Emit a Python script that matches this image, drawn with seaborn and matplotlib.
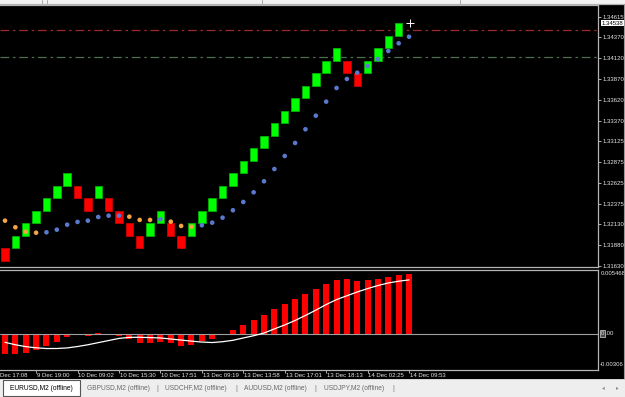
import matplotlib
matplotlib.use("Agg")
import matplotlib.pyplot as plt
import matplotlib.transforms as mtrans
from matplotlib.patches import Rectangle
from matplotlib.lines import Line2D
from matplotlib import font_manager
import numpy as np
import pandas as pd
import seaborn as sns

# ---------------- data ----------------
brick_open = [1.31838, 1.31838, 1.31988, 1.32138, 1.32288, 1.32438, 1.32588, 1.32588, 1.32438, 1.32438,
              1.32438, 1.32288, 1.32138, 1.31988, 1.31988, 1.32138, 1.32138, 1.31988, 1.31988, 1.32138,
              1.32288, 1.32438, 1.32588, 1.32738, 1.32888, 1.33038, 1.33188, 1.33338, 1.33488, 1.33638,
              1.33788, 1.33938, 1.34088, 1.34088, 1.33938, 1.33938, 1.34088, 1.34238, 1.34388]
brick_close = [1.31688, 1.31988, 1.32138, 1.32288, 1.32438, 1.32588, 1.32738, 1.32438, 1.32288, 1.32588,
               1.32288, 1.32138, 1.31988, 1.31838, 1.32138, 1.32288, 1.31988, 1.31838, 1.32138, 1.32288,
               1.32438, 1.32588, 1.32738, 1.32888, 1.33038, 1.33188, 1.33338, 1.33488, 1.33638, 1.33788,
               1.33938, 1.34088, 1.34238, 1.33938, 1.33788, 1.34088, 1.34238, 1.34388, 1.34538]

dot_price = [1.32171, 1.32092, 1.32039, 1.32027, 1.32032, 1.32063, 1.32123, 1.32156, 1.32171, 1.32215,
             1.32231, 1.32231, 1.32219, 1.32180, 1.32180, 1.32188, 1.32159, 1.32108, 1.32099, 1.32116,
             1.32147, 1.32207, 1.32296, 1.32395, 1.32511, 1.32643, 1.32790, 1.32946, 1.33102, 1.33266,
             1.33429, 1.33597, 1.33761, 1.33869, 1.33944, 1.34024, 1.34108, 1.34204, 1.34296, 1.34375]
dot_kind = list("OOOO" + "B" * 8 + "OOO" + "B" + "OOO" + "B" * 21)

hist_vals = [-0.00173, -0.00173, -0.00165, -0.00136, -0.00105, -0.00074, -0.00028, -0.00014, -0.00020, 0.00006,
             -0.00002, -0.00020, -0.00049, -0.00083, -0.00083, -0.00068, -0.00083, -0.00105, -0.00094, -0.00062,
             -0.00045, -0.00011, 0.00032, 0.00071, 0.00113, 0.00159, 0.00207, 0.00253, 0.00298, 0.00341,
             0.00378, 0.00421, 0.00455, 0.00463, 0.00446, 0.00455, 0.00463, 0.00480, 0.00497, 0.00506]
signal_vals = [-0.00074, -0.00095, -0.00111, -0.00121, -0.00127, -0.00127, -0.00122, -0.00110, -0.00095, -0.00077,
               -0.00059, -0.00041, -0.00032, -0.00031, -0.00034, -0.00037, -0.00046, -0.00055, -0.00064, -0.00072,
               -0.00076, -0.00069, -0.00057, -0.00037, -0.00018, 0.00005, 0.00040, 0.00074, 0.00112, 0.00155,
               0.00200, 0.00248, 0.00290, 0.00323, 0.00355, 0.00384, 0.00410, 0.00432, 0.00447, 0.00458]

price_ticks = [1.34615, 1.34370, 1.34120, 1.33870, 1.33620, 1.33370, 1.33125,
               1.32875, 1.32625, 1.32375, 1.32130, 1.31880, 1.31630]
price_tick_labels = ["1.34615", "1.34370", "1.34120", "1.33870", "1.33620", "1.33370", "1.33125",
                     "1.32875", "1.32625", "1.32375", "1.32130", "1.31880", "1.31630"]
first_time_label = "Dec 17:08"          # partially visible label at the left edge
time_tick_idx = [3, 7, 11, 15, 19, 23, 27, 31, 35, 39]
time_tick_labels = ["9 Dec 19:00", "10 Dec 09:02", "10 Dec 15:30", "10 Dec 17:51",
                    "13 Dec 09:19", "13 Dec 13:58", "13 Dec 17:01", "13 Dec 18:13", "14 Dec 02:25",
                    "14 Dec 09:53"]
level_red = 1.34459
level_green = 1.34128
bid_price = 1.34538
bid_label = "1.34538"
cursor_pos = (39.1, 1.34543)
osc_max, osc_min = 0.005468, -0.00306
osc_labels = ["0.005468", "0.00", "-0.00306"]
tab_names = ["EURUSD,M2 (offline)", "GBPUSD,M2 (offline)", "USDCHF,M2 (offline)",
             "AUDUSD,M2 (offline)", "USDJPY,M2 (offline)"]

# ---------------- style ----------------
sns.set_theme(style="dark", rc={"axes.facecolor": "black", "figure.facecolor": "black"})
names = {f.name for f in font_manager.fontManager.ttflist}
if "Liberation Sans Narrow" in names:
    AXFONT, AXFS = "Liberation Sans Narrow", 5.0
else:
    AXFONT, AXFS = "Liberation Sans", 4.3
plt.rcParams["font.family"] = [AXFONT, "DejaVu Sans"]
TXT = "#e6e6e6"
SPINE = "#b4b4b4"

W, H = 625, 397
fig = plt.figure(figsize=(W / 100, H / 100), dpi=100)
fig.patch.set_facecolor("black")


def fx(px):
    return px / W


def fy(py):
    return 1 - py / H


ax1 = fig.add_axes([0, fy(267), fx(598), (267 - 4.5) / H])
ax2 = fig.add_axes([0, fy(369.5), fx(598), 100 / H])

# ---------------- upper: renko bricks ----------------
o = np.array(brick_open)
c = np.array(brick_close)
xb = np.arange(len(o))
up = c > o
ax1.bar(xb[up], (c - o)[up], bottom=o[up], width=0.72, color="#00ff00",
        edgecolor="#00b000", linewidth=0.6, zorder=2)
ax1.bar(xb[~up], (c - o)[~up], bottom=o[~up], width=0.72, color="#ff0000",
        edgecolor="#c80000", linewidth=0.6, zorder=2)

df_dots = pd.DataFrame({"idx": np.arange(len(dot_price)), "price": dot_price, "kind": dot_kind})
sns.scatterplot(data=df_dots, x="idx", y="price", hue="kind",
                palette={"O": "#f4a442", "B": "#5a78cc"}, s=11, linewidth=0,
                legend=False, ax=ax1, zorder=3)

ax1.axhline(level_red, color="#9c2a2a", lw=0.9, ls=(0, (7, 3, 2, 3)), zorder=1)
ax1.axhline(level_green, color="#4e6e4e", lw=0.9, ls=(0, (7, 3, 2, 3)), zorder=1)
ax1.plot([cursor_pos[0]], [cursor_pos[1]], marker="+", color="white", ms=6, mew=0.7, zorder=5)

ax1.set_xlim(-0.4826, 57.24)
ax1.set_ylim(1.31616, 1.34761)

# ---------------- lower: oscillator ----------------
xh = np.arange(len(hist_vals))
ax2.bar(xh, hist_vals, width=0.58, color="#ff0000", linewidth=0, zorder=2)
ax2.axhline(0, color="#a0a0a0", lw=0.8, zorder=3)
sns.lineplot(x=xh, y=signal_vals, color="white", lw=0.9, ax=ax2, zorder=4)
ax2.set_xlim(-0.4826, 57.24)
ax2.set_ylim(osc_min, osc_max)

for ax in (ax1, ax2):
    ax.set_facecolor("black")
    ax.grid(False)
    ax.set_xlabel("")
    ax.set_ylabel("")
    ax.spines["left"].set_visible(False)
    for s in ("top", "right", "bottom"):
        ax.spines[s].set_visible(True)
        ax.spines[s].set_color(SPINE)
        ax.spines[s].set_linewidth(0.9)

ax1.set_xticks([])
ax1.yaxis.tick_right()
ax1.set_yticks(price_ticks, labels=price_tick_labels)
ax1.tick_params(axis="y", right=True, left=False, length=2.2, width=0.6, color="#c8c8c8",
                labelcolor=TXT, labelsize=AXFS, pad=1)

tr_r1 = mtrans.blended_transform_factory(ax1.transAxes, ax1.transData)
ax1.text(1 + 4 / 598, bid_price, bid_label, transform=tr_r1, ha="left", va="center",
         color="black", fontsize=AXFS, clip_on=False, zorder=6,
         bbox=dict(boxstyle="square,pad=0.12", fc="white", ec="none"))

ax2.set_yticks([])
ax2.set_xticks(time_tick_idx, labels=[""] * len(time_tick_idx))
ax2.tick_params(axis="x", bottom=True, length=2, width=0.6, color="#c8c8c8")
tr_b = mtrans.blended_transform_factory(ax2.transData, ax2.transAxes)
for i, lab in zip(time_tick_idx, time_tick_labels):
    ax2.text(i + 0.08, -0.035, lab, transform=tr_b, ha="left", va="top",
             fontsize=AXFS, color=TXT, clip_on=False)
ax2.text(0.0, -0.035, first_time_label, transform=ax2.transAxes, ha="left", va="top",
         fontsize=AXFS, color=TXT, clip_on=False)

ax2.text(1 + 3 / 598, 0.962, osc_labels[0], transform=ax2.transAxes, ha="left", va="center",
         fontsize=AXFS, color=TXT, clip_on=False)
tr_r2 = mtrans.blended_transform_factory(ax2.transAxes, ax2.transData)
ax2.text(1 + 3 / 598, 0, "0", transform=tr_r2, ha="left", va="center", fontsize=AXFS,
         color=TXT, clip_on=False,
         bbox=dict(boxstyle="square,pad=0.12", fc="#4a4a4a", ec="#d8d8d8", lw=0.5))
ax2.text(1 + 7 / 598, 0, osc_labels[1][1:], transform=tr_r2, ha="left", va="center",
         fontsize=AXFS, color=TXT, clip_on=False)
ax2.text(1 + 2 / 598, 0.052, osc_labels[2], transform=ax2.transAxes, ha="left", va="center",
         fontsize=AXFS, color=TXT, clip_on=False)

# ---------------- window chrome ----------------
fig.add_artist(Rectangle((0, fy(3.5)), 1, 3.5 / H, transform=fig.transFigure,
                         fc="#f2f2f2", ec="none"))
for xv in (42, 47, 262, 460):
    fig.add_artist(Line2D([fx(xv)] * 2, [fy(3.5), 1], transform=fig.transFigure,
                          color="#9a9a9a", lw=0.6))
fig.add_artist(Line2D([0, 1], [fy(4.3)] * 2, transform=fig.transFigure, color=SPINE, lw=0.9))
fig.add_artist(Line2D([fx(623.5)] * 2, [fy(379), fy(4.3)], transform=fig.transFigure,
                      color="#9a9a9a", lw=0.8))

fig.add_artist(Rectangle((0, 0), 1, 18 / H, transform=fig.transFigure, fc="#eeeeee", ec="none"))
fig.add_artist(Line2D([0, 1], [18 / H] * 2, transform=fig.transFigure, color="#d0d0d0", lw=0.6))
fig.add_artist(Rectangle((fx(3), fy(396)), fx(77), 16 / H, transform=fig.transFigure,
                         fc="white", ec="#555555", lw=0.8))
tab_centers = [41.5, 118, 196, 275, 354]
for k, (cx, name) in enumerate(zip(tab_centers, tab_names)):
    fig.text(fx(cx), fy(388), name, ha="center", va="center", fontsize=4.8,
             family=["Liberation Sans", "DejaVu Sans"], color="black" if k == 0 else "#6a6a6a")
for sx in (157, 236, 315, 393):
    fig.text(fx(sx), fy(388), "|", ha="center", va="center", fontsize=5.5,
             family=["Liberation Sans", "DejaVu Sans"], color="#7a7a7a")
fig.text(fx(603), fy(388), "\u25c2", ha="center", va="center", fontsize=4,
         family="DejaVu Sans", color="#8a8a8a")
fig.text(fx(617), fy(388), "\u25b8", ha="center", va="center", fontsize=4,
         family="DejaVu Sans", color="#8a8a8a")

fig.savefig("out.png", dpi=100, facecolor=fig.get_facecolor())
